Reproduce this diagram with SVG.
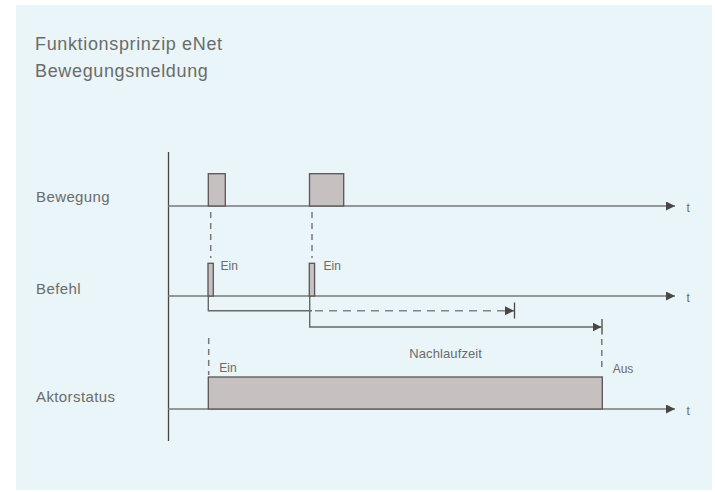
<svg xmlns="http://www.w3.org/2000/svg" width="715" height="492" viewBox="0 0 715 492">
<style>
.txt{font-family:"Liberation Sans",Arial,sans-serif;fill:#6b6b6b}
.title{font-size:18px;letter-spacing:0.65px}
.lbl{font-size:15px;letter-spacing:0.4px}
.sm{font-size:12px}
.axis{stroke:#7a7878;stroke-width:1.6;fill:none}
.vaxis{stroke:#4a4646;stroke-width:1.3;fill:none}
.pulse{fill:#c6c1c0;stroke:#5a5555;stroke-width:1.3}
.dash{stroke:#7a7878;stroke-width:1.5;stroke-dasharray:6 5;fill:none}
.hdash{stroke:#858383;stroke-width:1.5;stroke-dasharray:8 6;fill:none}
.line{stroke:#6a6767;stroke-width:1.4;fill:none}
.tick{stroke:#4a4646;stroke-width:1.3}
</style>
<defs>
<marker id="arr" viewBox="0 0 10 10" refX="10" refY="5" markerWidth="9" markerHeight="9" markerUnits="userSpaceOnUse" orient="auto">
<path d="M0,0 L10,5 L0,10 Z" fill="#4a4646"/>
</marker>
</defs>
<rect x="0" y="0" width="715" height="492" fill="#ffffff"/>
<rect x="16" y="5" width="696" height="485" fill="#e9f5f8"/>
<g id="title">
<text class="txt title" x="35" y="49.5">Funktionsprinzip eNet</text>
<text class="txt title" x="35" y="76.5">Bewegungsmeldung</text>
</g>
<g id="labels">
<text class="txt lbl" x="36" y="201.5">Bewegung</text>
<text class="txt lbl" x="36" y="293.5">Befehl</text>
<text class="txt lbl" x="36" y="401.5">Aktorstatus</text>
</g>
<g id="connectors">
<line class="vaxis" x1="168.5" y1="152" x2="168.5" y2="441"/>
<line class="axis" x1="168" y1="206" x2="675" y2="206" marker-end="url(#arr)"/>
<line class="axis" x1="168" y1="296" x2="675" y2="296" marker-end="url(#arr)"/>
<line class="axis" x1="168" y1="409" x2="675" y2="409" marker-end="url(#arr)"/>
<line class="dash" x1="210.7" y1="212" x2="210.7" y2="258"/>
<line class="dash" x1="312" y1="212" x2="312" y2="258"/>
<path class="line" d="M208.3 296 V310.7 H312"/>
<line class="hdash" x1="315" y1="310.7" x2="506" y2="310.7"/>
<line class="line" x1="505" y1="310.7" x2="514" y2="310.7" marker-end="url(#arr)"/>
<line class="tick" x1="514.5" y1="302.5" x2="514.5" y2="318.5"/>
<path class="line" d="M309.7 296 V327 H601.5" marker-end="url(#arr)"/>
<line class="tick" x1="602" y1="319" x2="602" y2="334.5"/>
<line class="dash" x1="601.8" y1="339" x2="601.8" y2="368"/>
<line class="dash" x1="208.7" y1="338" x2="208.7" y2="375"/>
</g>
<g id="bewegung-pulses">
<rect class="pulse" x="208.3" y="173.7" width="17" height="32.3"/>
<rect class="pulse" x="309.5" y="173.7" width="34.2" height="32.3"/>
</g>
<g id="befehl-pulses">
<rect class="pulse" x="208" y="263.3" width="5.3" height="32.7"/>
<rect class="pulse" x="309.3" y="263.3" width="5.3" height="32.7"/>
<text class="txt sm" x="220.5" y="270.3">Ein</text>
<text class="txt sm" x="323.5" y="270.3">Ein</text>
</g>
<g id="aktor-state">
<rect class="pulse" x="208.3" y="377" width="394" height="32"/>
<text class="txt sm" x="219.3" y="371.7">Ein</text>
<text class="txt sm" x="612.7" y="372.7">Aus</text>
<text class="txt" style="font-size:13px;letter-spacing:0.1px" x="409.3" y="358">Nachlaufzeit</text>
</g>
<g id="t-labels">
<text class="txt" style="font-size:12px" x="686.5" y="211.5">t</text>
<text class="txt" style="font-size:12px" x="686.5" y="301.5">t</text>
<text class="txt" style="font-size:12px" x="686.5" y="414.5">t</text>
</g>
</svg>
